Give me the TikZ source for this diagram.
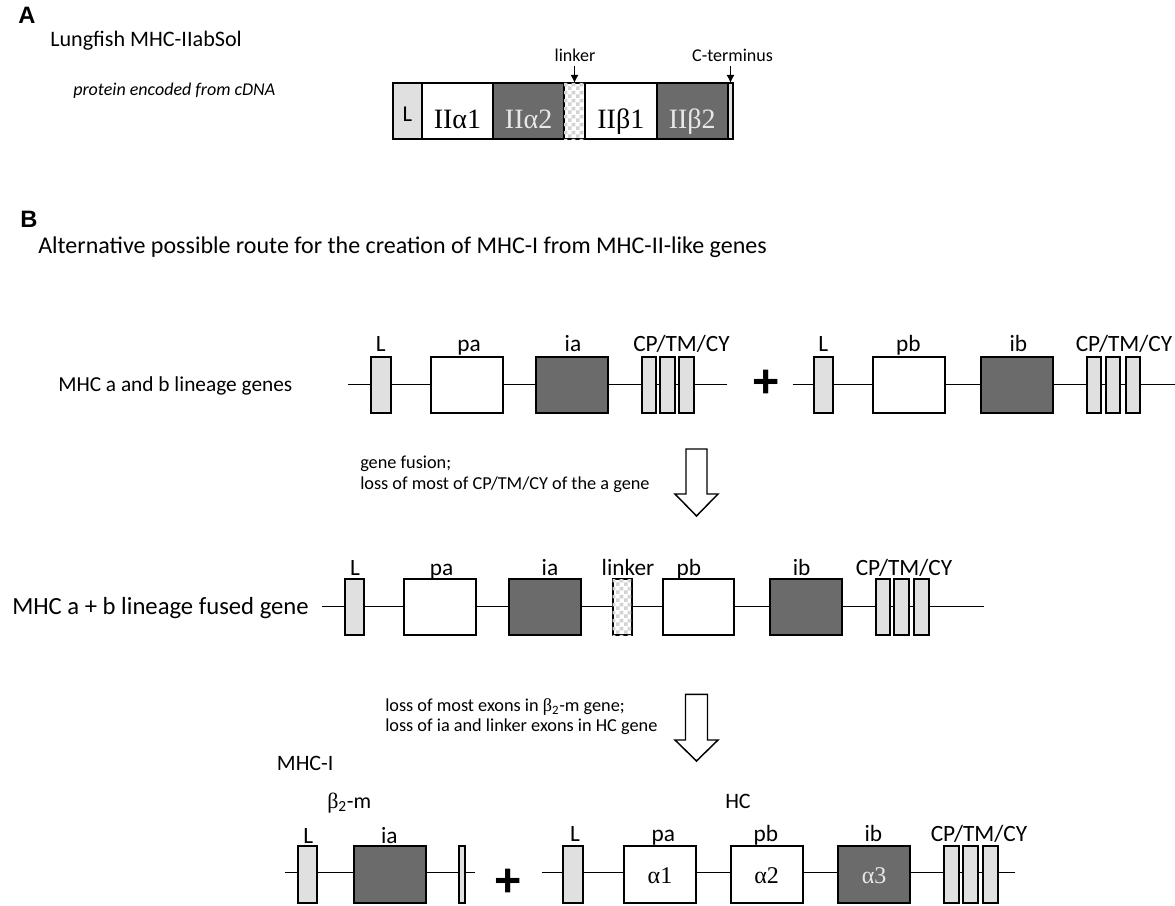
\documentclass[tikz,border=0pt]{standalone}
\usepackage{fontspec}
\setmainfont{Carlito}
\newfontfamily\tms{Liberation Serif}
\newfontfamily\arl{Liberation Sans}
\usetikzlibrary{patterns,arrows.meta}
\definecolor{lgray}{HTML}{E0E0E0}
\definecolor{dgray}{HTML}{6B6B6B}
\definecolor{wtxt}{HTML}{E8E8E8}
\definecolor{chkgray}{HTML}{D4D4D4}
\pgfdeclarepatternformonly{mychk}{\pgfpointorigin}{\pgfqpoint{6pt}{6pt}}{\pgfqpoint{6pt}{6pt}}{%
  \pgfpathrectangle{\pgfpointorigin}{\pgfqpoint{3pt}{3pt}}%
  \pgfpathrectangle{\pgfqpoint{3pt}{3pt}}{\pgfqpoint{3pt}{3pt}}%
  \pgfusepath{fill}}
\newcommand{\exon}[7]{\node[#2, anchor=north west, minimum width={(#4-#3)*0.75pt}, minimum height={(#6-#5)*0.75pt}] (#1) at (#3,#5) {#7};}
\tikzset{
  ex/.style={draw=black, line width=1.4pt, inner sep=0pt, outer sep=0pt},
  lt/.style={ex, fill=lgray},
  dk/.style={ex, fill=dgray, text=wtxt},
  wh/.style={ex, fill=white},
  chk/.style={ex, fill=white, postaction={pattern=mychk, pattern color=chkgray}},
  gl/.style={line width=1pt},
  lbl/.style={font=\fontsize{17.5}{19}\selectfont, inner sep=0pt, anchor=base},
  rowlbl/.style={font=\fontsize{16}{18}\selectfont, inner sep=0pt, anchor=base west},
  note/.style={font=\fontsize{13.7}{16}\selectfont, inner sep=0pt, anchor=base west},
  panel/.style={font=\arl\bfseries\fontsize{17.8}{18}\selectfont, inner sep=0pt, anchor=base west},
  grk/.style={font=\tms\fontsize{18}{18}\selectfont, inner sep=0pt, anchor=base},
  grkA/.style={font=\tms\fontsize{21}{21}\selectfont, inner sep=0pt, anchor=base},
  plus/.style={font=\arl\bfseries\fontsize{35}{35}\selectfont, inner sep=0pt},
  smarr/.style={line width=1.1pt, -{Latex[length=6pt,width=6pt]}},
  blockarr/.style={draw=black, fill=white, line width=1.1pt, line join=miter},
}
\begin{document}
\begin{tikzpicture}[x=0.75pt,y=-0.75pt]
\useasboundingbox (0,0) rectangle (1175,906);

% ---------------- Panel A ----------------
\node[panel] (pA) at (18,24) {A};
\node[rowlbl, font=\fontsize{16.6}{19}\selectfont] (tA) at (50,47) {Lungfish MHC-IIabSol};
\node[note, font=\itshape\fontsize{13.5}{16}\selectfont] (tAi) at (73,95) {protein encoded from cDNA};

\exon{aL}{lt}{393}{421.7}{83}{139}{}
\exon{a1}{wh}{421.7}{493.3}{83}{139}{}
\exon{a2}{dk}{493.3}{564}{83}{139}{}
\exon{alk}{chk}{564}{585}{83}{139}{}
\exon{b1}{wh}{585}{656.7}{83}{139}{}
\exon{b2}{dk}{656.7}{727.7}{83}{139}{}
\exon{act}{lt}{727.7}{733.3}{83}{139}{}
\node[lbl, font=\fontsize{17}{18}\selectfont] (taL) at (407.3,121.7) {L};
\node[grkA] (ta1) at (457.5,128) {IIα1};
\node[grkA, text=wtxt] (ta2) at (528.6,128) {IIα2};
\node[grkA] (tb1) at (620.8,128) {IIβ1};
\node[grkA, text=wtxt] (tb2) at (692.2,128) {IIβ2};

\node[lbl, font=\fontsize{13.5}{15}\selectfont] (tlk) at (575,61.7) {linker};
\node[lbl, font=\fontsize{13.5}{15}\selectfont] (tct) at (732.5,61.7) {C-terminus};
\draw[smarr] (alk.north |- 0,66) -- (alk.north);
\draw[smarr] (act.north |- 0,66) -- (act.north);

% ---------------- Panel B ----------------
\node[panel] (pB) at (20,227) {B};
\node[rowlbl, font=\fontsize{18}{20}\selectfont] (tB) at (38,253) {Alternative possible route for the creation of MHC-I from MHC-II-like genes};

% Row 1
\node[rowlbl] (r1l) at (58,391) {MHC a and b lineage genes};
\coordinate (r1s) at (348,384.5);
\coordinate (r1e) at (727,384.5);
\draw[gl] (r1s) -- (r1e);
\exon{L1}{lt}{370.7}{390.7}{357}{412.7}{}
\exon{pa1}{wh}{431}{502.7}{357}{412.7}{}
\exon{ia1}{dk}{535.7}{607.7}{357}{412.7}{}
\exon{c1a}{lt}{641.7}{656}{357}{412.7}{}
\exon{c1b}{lt}{660}{675}{357}{412.7}{}
\exon{c1c}{lt}{679.3}{694.3}{357}{412.7}{}
\node[lbl] (tL1) at (380.7,351.7) {L};
\node[lbl] (tpa1) at (469,351.7) {pa};
\node[lbl] (tia1) at (573,351.7) {ia};
\node[lbl] (tc1) at (681.5,351.7) {CP/TM/CY};

\node[plus] (plus1) at (766,384) {+};

\coordinate (r1rs) at (793,384.5);
\coordinate (r1re) at (1175,384.5);
\draw[gl] (r1rs) -- (r1re);
\exon{L1r}{lt}{814}{833.3}{357}{412.7}{}
\exon{pb1}{wh}{873.3}{945}{357}{412.7}{}
\exon{ib1}{dk}{981}{1052.7}{357}{412.7}{}
\exon{c1ra}{lt}{1086.7}{1100.7}{357}{412.7}{}
\exon{c1rb}{lt}{1105.7}{1120}{357}{412.7}{}
\exon{c1rc}{lt}{1125.7}{1140}{357}{412.7}{}
\node[lbl] (tL1r) at (823.3,351.7) {L};
\node[lbl] (tpb1) at (908.3,351.7) {pb};
\node[lbl] (tib1) at (1018.3,351.7) {ib};
\node[lbl] (tc1r) at (1124,351.7) {CP/TM/CY};

% Step 1
\node[note] (n1a) at (360,468) {gene fusion;};
\node[note] (n1b) at (360,489) {loss of most of CP/TM/CY of the a gene};
\draw[blockarr] (686,449) -- (707,449) -- (707,494) -- (718,494) -- (696.5,516) -- (675,494) -- (686,494) -- cycle;

% Row 2
\node[rowlbl, font=\fontsize{18.5}{20}\selectfont] (r2l) at (12,614) {MHC a + b lineage fused gene};
\coordinate (r2s) at (322,606.7);
\coordinate (r2e) at (984,606.7);
\draw[gl] (r2s) -- (r2e);
\exon{L2}{lt}{345}{364}{579.3}{635}{}
\exon{pa2}{wh}{404.3}{476}{579.3}{635}{}
\exon{ia2}{dk}{509.3}{581}{579.3}{635}{}
\exon{lk2}{chk}{612.7}{631.7}{579.3}{635}{}
\exon{pb2}{wh}{662.7}{734}{579.3}{635}{}
\exon{ib2}{dk}{770}{841.7}{579.3}{635}{}
\exon{c2a}{lt}{875.7}{890}{579.3}{635}{}
\exon{c2b}{lt}{894.3}{909.3}{579.3}{635}{}
\exon{c2c}{lt}{914.3}{929}{579.3}{635}{}
\node[lbl] (tL2) at (355,575) {L};
\node[lbl] (tpa2) at (441.7,575) {pa};
\node[lbl] (tia2) at (550,575) {ia};
\node[lbl] (tlk2) at (628,575) {linker};
\node[lbl] (tpb2) at (689,575) {pb};
\node[lbl] (tib2) at (801.7,575) {ib};
\node[lbl] (tc2) at (904,575) {CP/TM/CY};

% Step 2
\node[note] (n2a) at (385,711.7) {loss of most exons in {\tms β}\textsubscript{2}-m gene;};
\node[note] (n2b) at (385,731.7) {loss of ia and linker exons in HC gene};
\draw[blockarr] (685.5,694.3) -- (707.5,694.3) -- (707.5,740) -- (718,740) -- (696.5,761) -- (675,740) -- (685.5,740) -- cycle;

% Row 3
\node[rowlbl, font=\fontsize{16.5}{18}\selectfont] (mhc1) at (276.7,770) {MHC-I};
\node[rowlbl, font=\fontsize{16.5}{18}\selectfont] (b2m) at (327,808) {{\tms β}\textsubscript{2}-m};
\node[rowlbl, font=\fontsize{16.5}{18}\selectfont] (hc) at (725,808) {HC};

\coordinate (r3s) at (285,872.7);
\coordinate (r3e) at (475,872.7);
\draw[gl] (r3s) -- (r3e);
\exon{L3}{lt}{298.3}{316.7}{846}{902.7}{}
\exon{ia3}{dk}{354.3}{425.7}{846}{902.7}{}
\exon{sm3}{lt}{459.3}{465}{846}{902.7}{}
\node[lbl] (tL3) at (308.3,843.3) {L};
\node[lbl] (tia3) at (389.3,843.3) {ia};

\node[plus] (plus2) at (508,883) {+};

\coordinate (r3rs) at (541.7,872.7);
\coordinate (r3re) at (1015,872.7);
\draw[gl] (r3rs) -- (r3re);
\exon{L3r}{lt}{563.3}{583.3}{846}{902.7}{}
\exon{al1}{wh}{624.3}{695.7}{846}{902.7}{}
\exon{al2}{wh}{730.7}{802.7}{846}{902.7}{}
\exon{al3}{dk}{838.3}{910}{846}{902.7}{}
\exon{c3a}{lt}{944.3}{959.3}{846}{902.7}{}
\exon{c3b}{lt}{963.3}{977.7}{846}{902.7}{}
\exon{c3c}{lt}{982.7}{997.7}{846}{902.7}{}
\node[grk] (tal1) at (660,883) {α1};
\node[grk] (tal2) at (766.7,883) {α2};
\node[grk, text=wtxt] (tal3) at (874.2,883) {α3};
\node[lbl] (tL3r) at (575,841.7) {L};
\node[lbl] (tpa3) at (663.3,841.7) {pa};
\node[lbl] (tpb3) at (766,841.7) {pb};
\node[lbl] (tib3) at (873.3,841.7) {ib};
\node[lbl] (tc3) at (979,841.7) {CP/TM/CY};
\end{tikzpicture}
\end{document}
